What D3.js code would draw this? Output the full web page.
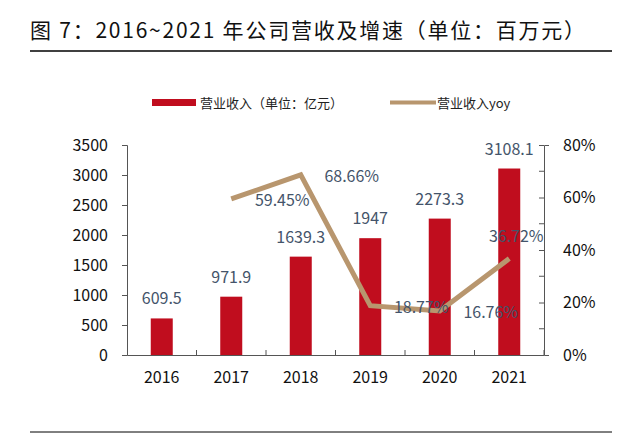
<!DOCTYPE html><html><head><meta charset="utf-8"><script src="https://cdn.jsdelivr.net/npm/d3@7"></script>
<style>body{margin:0;background:#fff}</style></head><body><svg width="640" height="434"></svg><script>
const years=["2016","2017","2018","2019","2020","2021"];
const revenue=[609.5,971.9,1639.3,1947,2273.3,3108.1];
const yoy=[null,59.45,68.66,18.77,16.76,36.72];
const leftTicks=[0,500,1000,1500,2000,2500,3000,3500];
const rightTicks=[0,20,40,60,80];
const svg=d3.select("svg"),F="'Noto Sans CJK SC',sans-serif",C="#44546a";
svg.append("text").attr("x",30).attr("y",38).attr("font-family",F).attr("font-size",21).attr("textLength",555).attr("fill","#111").text("图 7：2016~2021 年公司营收及增速（单位：百万元）");
svg.append("line").attr("x1",30).attr("x2",612).attr("y1",51).attr("y2",51).attr("stroke","#000").attr("stroke-width",1.5);
svg.append("line").attr("x1",30).attr("x2",612).attr("y1",432).attr("y2",432).attr("stroke","#000").attr("stroke-width",1);
const L=127,R=544,T=145,B=355;
const x=d3.scaleBand().domain(years).range([L,R]);
const y=d3.scaleLinear().domain([0,3500]).range([B,T]);
const y2=d3.scaleLinear().domain([0,80]).range([B,T]);
const ax=svg.append("g").attr("transform",`translate(0,${B})`).call(d3.axisBottom(x).tickSize(0).tickPadding(17));
ax.selectAll(".tick").append("line").attr("x1",x.bandwidth()/2).attr("x2",x.bandwidth()/2).attr("y1",0).attr("y2",-5).attr("stroke","#555");
const al=svg.append("g").attr("transform",`translate(${L},0)`).call(d3.axisLeft(y).tickValues(leftTicks).tickFormat(d3.format("d")).tickSize(5).tickPadding(14));
const ar=svg.append("g").attr("transform",`translate(${R},0)`).call(d3.axisRight(y2).tickValues(rightTicks).tickFormat(d=>d+"%").tickSize(5).tickPadding(14));
ar.selectAll(".m").data(d3.range(10,80,20)).enter().append("line").attr("x1",0).attr("x2",-5).attr("y1",d=>y2(d)).attr("y2",d=>y2(d)).attr("stroke","#555");
[ax,al,ar].forEach(g=>{g.selectAll("text").attr("font-family",F).attr("font-size",16).attr("fill","#111");g.selectAll("path,line").attr("stroke","#555");});
ar.selectAll(".tick line").attr("x2",-5);
svg.selectAll(".bar").data(revenue).enter().append("rect").attr("x",(d,i)=>x(years[i])+x.bandwidth()/2-11).attr("width",22).attr("y",d=>y(d)).attr("height",d=>B-y(d)).attr("fill","#c00d1e");
svg.selectAll(".bl").data(revenue).enter().append("text").attr("x",(d,i)=>x(years[i])+x.bandwidth()/2).attr("y",d=>y(d)-14).attr("text-anchor","middle").attr("font-family",F).attr("font-size",16).attr("fill",C).text(d=>d);
const pts=yoy.map((v,i)=>[v,i]).filter(d=>d[0]!=null);
svg.append("path").datum(pts).attr("d",d3.line().x(d=>x(years[d[1]])+x.bandwidth()/2).y(d=>y2(d[0]))).attr("fill","none").attr("stroke","#b8966e").attr("stroke-width",5);
svg.selectAll(".yl").data(pts).enter().append("text").attr("x",d=>x(years[d[1]])+x.bandwidth()/2+(d[1]==5?7:51)).attr("y",d=>y2(d[0])+(d[1]==5?-17:7)).attr("text-anchor","middle").attr("font-family",F).attr("font-size",16).attr("fill",C).text(d=>d[0].toFixed(2)+"%");
const lg=svg.append("g").attr("font-family",F).attr("font-size",13).attr("fill","#222");
lg.append("rect").attr("x",152).attr("y",99).attr("width",44).attr("height",7).attr("fill","#c00d1e");
lg.append("text").attr("x",200).attr("y",108).text("营业收入（单位：亿元）");
lg.append("line").attr("x1",390).attr("x2",436).attr("y1",102.5).attr("y2",102.5).attr("stroke","#b8966e").attr("stroke-width",4);
lg.append("text").attr("x",437).attr("y",108).text("营业收入yoy");
</script></body></html>
